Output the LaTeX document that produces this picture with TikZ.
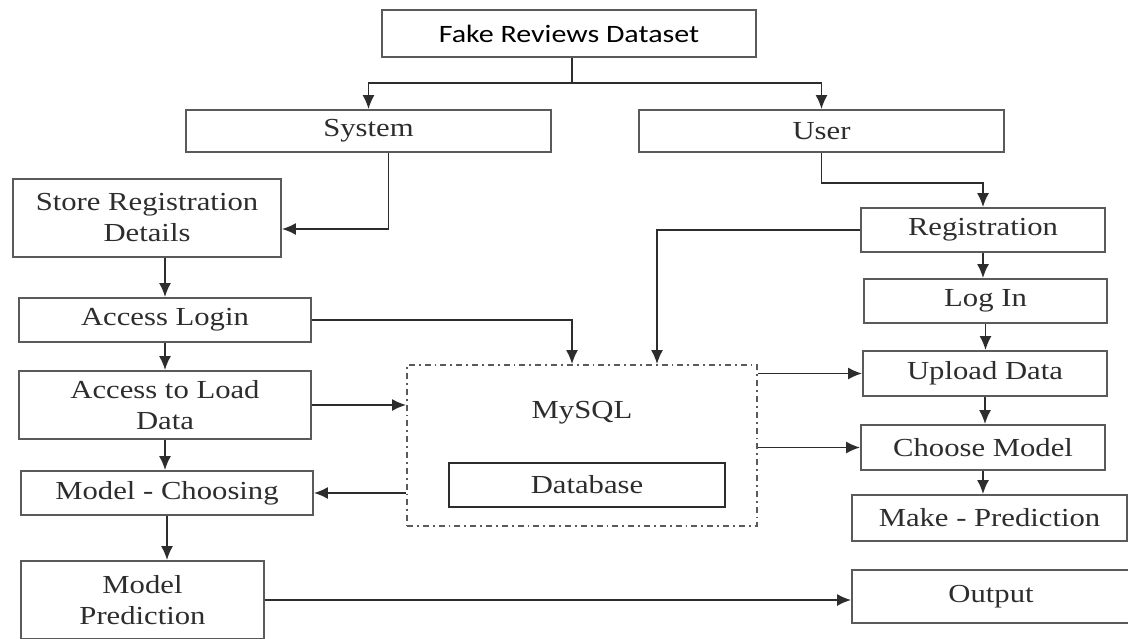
\documentclass[tikz,border=0pt]{standalone}
\usepackage{fontspec}
\setmainfont{Liberation Serif}[FakeStretch=1.18]
\newfontfamily\calibri{Carlito}[FakeStretch=1.2]
\usepackage{tikz}
\usetikzlibrary{scopes,positioning,arrows.meta}
\definecolor{boxgray}{RGB}{90,90,90}
\definecolor{txtgray}{RGB}{45,45,45}
\tikzset{
  mybox/.style={draw=boxgray,line width=0.9pt,text=txtgray,align=center,inner sep=0pt,
    font=\fontsize{13}{15.5}\selectfont},
  sz/.style 2 args={minimum width=#1,minimum height=#2},
  dbframe/.style={draw=boxgray,line width=0.9pt,dash dot,inner sep=0pt},
  route/.style={-{Latex[length=7pt,width=6pt]},line width=0.9pt,draw=txtgray}
}

\begin{document}
\begin{tikzpicture}[x=0.5pt,y=-0.5pt]
  \useasboundingbox[fill=white] (0,0) rectangle (1128,638);
  % top part
  \node[mybox,sz={187pt}{23.5pt},text=black,font=\calibri\fontsize{12.5}{15}\selectfont] (data) at (569,33.5) {Fake Reviews Dataset};
  \node[mybox,sz={182.5pt}{21pt}] (sys)  at (368.5,131) {System};
  \node[mybox,sz={182.5pt}{21pt}] (user) at (821.5,131) {User};
  \coordinate (split) at (572,83);
  % left column
  \node[mybox,sz={134pt}{39pt}]   (store)    at (147,218) {Store Registration\\Details};
  \node[mybox,sz={146pt}{22pt}]   (login)    at (165,320) {Access Login};
  \node[mybox,sz={146pt}{34pt}]   (load)     at (165,405) {Access to Load\\Data};
  \node[mybox,sz={146pt}{22pt}]   (choosing) at (167,493) {Model - Choosing};
  \node[mybox,sz={121.5pt}{39pt}] (mpred)    at (142.5,600) {Model\\Prediction};
  % right column
  \node[mybox,sz={122pt}{22pt}]   (reg)    at (983,230) {Registration};
  \node[mybox,sz={121.5pt}{22pt}] (logn)   at (985.5,301) {Log In};
  \node[mybox,sz={122pt}{22.5pt}] (upload) at (985,373.5) {Upload Data};
  \node[mybox,sz={122pt}{22.5pt}] (choose) at (983,447.5) {Choose Model};
  \node[mybox,sz={137.5pt}{23pt}] (make)   at (989.5,518) {Make - Prediction};
  \node[mybox,sz={139pt}{26.5pt}] (output) at (991,596.5) {Output};
  % database
  \node[dbframe,sz={175pt}{80.5pt}] (mysql) at (582,445.5) {};
  \node[mybox,draw=none] (mysqltxt) at (582,413) {MySQL};
  \node[mybox,sz={138pt}{22pt},draw=txtgray] (db) at (587,485) {Database};

  \draw[line width=0.9pt,draw=txtgray] (data.south -| split) -- (split);
  {[route]
    \draw (split) -| (sys.north);
    \draw (split) -| (user.north);
    \draw ([xshift=10pt]sys.south) |- ([yshift=-5.5pt]store.east);
    \draw (store.south -| login.north) -- (login.north);
    \draw (login.south) -- (load.north);
    \draw (load.south) -- (load.south |- choosing.north);
    \draw (choosing.south) -- (choosing.south |- mpred.north);
    \draw (user.south) -- ++(0,30) -| (reg.north);
    \draw (reg.south) -- (reg.south |- logn.north);
    \draw (logn.south) -- (logn.south |- upload.north);
    \draw (upload.south) -- (upload.south |- choose.north);
    \draw (choose.south) -- (choose.south |- make.north);
    \draw (login.east) -| ([xshift=-5pt]mysql.north);
    \draw (reg.west) -| ([xshift=37.5pt]mysql.north);
    \draw (load.east) -- (load.east -| mysql.west);
    \draw (mysql.west |- choosing.east) -- (choosing.east);
    \draw (upload.west -| mysql.east) -- (upload.west);
    \draw (choose.west -| mysql.east) -- (choose.west);
    \draw (mpred.east) -- (mpred.east -| output.west);
  }
\end{tikzpicture}
\end{document}
